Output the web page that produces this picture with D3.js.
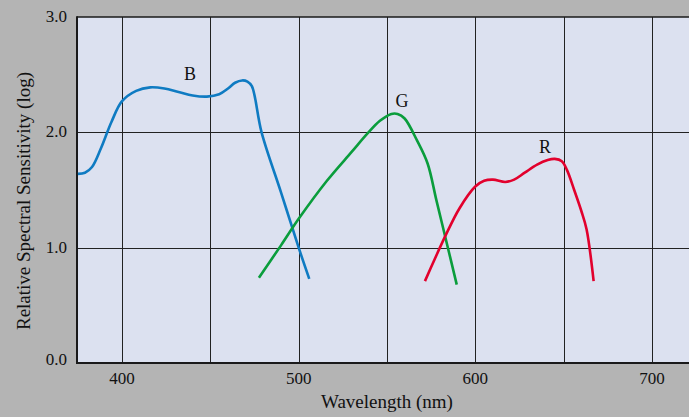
<!DOCTYPE html>
<html>
<head>
<meta charset="utf-8">
<script src="https://cdn.jsdelivr.net/npm/d3@7"></script>
<style>
  html, body { margin: 0; padding: 0; background: #b4b4b4; }
  svg { display: block; }
  text { font-family: "Liberation Serif", "Times New Roman", serif; fill: #111; }
</style>
</head>
<body>
<svg id="chart" width="689" height="417"></svg>
<script>
// sensitivity curves (wavelength nm, log sensitivity)
const blueWl  = [375, 379, 383, 388, 394, 400, 408, 416, 424, 432, 440, 448, 455, 460, 464, 468, 471, 473.5, 479, 490, 500, 506]
const blueVal = [1.64, 1.65, 1.70, 1.86, 2.09, 2.27, 2.36, 2.39, 2.38, 2.35, 2.32, 2.31, 2.33, 2.38, 2.43, 2.45, 2.44, 2.40, 2.00, 1.48, 1.00, 0.73]

const greenWl  = [477.5, 490, 500, 516, 530, 539, 546, 552.5, 556, 560, 567, 573, 578, 584, 589.5]
const greenVal = [0.74, 1.02, 1.25, 1.58, 1.83, 1.99, 2.10, 2.16, 2.16, 2.12, 1.93, 1.73, 1.41, 1.03, 0.68]

const redWl  = [571.5, 577, 583, 591, 600, 605, 610, 617, 622, 628, 635, 641, 645, 649, 652, 656, 660, 663, 667]
const redVal = [0.71, 0.90, 1.10, 1.34, 1.53, 1.58, 1.59, 1.57, 1.59, 1.65, 1.72, 1.76, 1.77, 1.75, 1.67, 1.50, 1.32, 1.16, 0.71]

const seriesNames = ["B", "G", "R"]
const seriesColors = ["#0f7bc2", "#0a9d3c", "#e2012d"]
// where each curve label sits, in data units
const labelWl  = [438.5, 558.5, 639.5]
const labelVal = [2.45, 2.22, 1.82]

const xTicks = [400, 500, 600, 700]
const xGrid = [400, 450, 500, 550, 600, 650, 700]
const yTicks = [0, 1, 2, 3]

const svg = d3.select("#chart")
const x = d3.scaleLinear().domain([374.5, 721]).range([77, 689])
const y = d3.scaleLinear().domain([0, 3]).range([363, 17])

// plot background
svg.append("rect")
  .attr("x", x(374.5)).attr("y", y(3))
  .attr("width", x(721) - x(374.5)).attr("height", y(0) - y(3))
  .attr("fill", "#dce1f0")

// grid
svg.append("g").selectAll("line").data(xGrid).join("line")
  .attr("x1", d => Math.round(x(d)) + 0.5).attr("x2", d => Math.round(x(d)) + 0.5)
  .attr("y1", y(3)).attr("y2", y(0))
  .attr("stroke", "#222").attr("stroke-width", 1)

svg.append("g").selectAll("line").data([1, 2]).join("line")
  .attr("x1", x(374.5)).attr("x2", x(721))
  .attr("y1", d => Math.round(y(d)) + 0.5).attr("y2", d => Math.round(y(d)) + 0.5)
  .attr("stroke", "#222").attr("stroke-width", 1)

// frame: top, left, bottom
svg.append("line").attr("x1", x(374.5)).attr("x2", x(721))
  .attr("y1", y(3)).attr("y2", y(3)).attr("stroke", "#1a1a1a").attr("stroke-width", 1.5)
svg.append("line").attr("x1", x(374.5)).attr("x2", x(721))
  .attr("y1", y(0)).attr("y2", y(0)).attr("stroke", "#1a1a1a").attr("stroke-width", 2)
svg.append("line").attr("x1", x(374.5)).attr("x2", x(374.5))
  .attr("y1", y(3) - 0.75).attr("y2", y(0) + 1).attr("stroke", "#1a1a1a").attr("stroke-width", 2)

// tick labels
svg.append("g").selectAll("text").data(xTicks).join("text")
  .attr("x", d => x(d)).attr("y", 383.5)
  .attr("text-anchor", "middle").attr("font-size", 17)
  .text(d => d)

svg.append("g").selectAll("text").data(yTicks).join("text")
  .attr("x", 67).attr("y", d => y(d) + (d === 0 ? 1.5 : 5))
  .attr("text-anchor", "end").attr("font-size", 17)
  .text(d => d.toFixed(1))

// axis titles
svg.append("text")
  .attr("x", x(550)).attr("y", 408)
  .attr("text-anchor", "middle").attr("font-size", 19)
  .text("Wavelength (nm)")

svg.append("text")
  .attr("transform", "translate(30,201) rotate(-90)")
  .attr("text-anchor", "middle").attr("font-size", 19)
  .text("Relative Spectral Sensitivity (log)")

// curves
const line = d3.line()
  .x(d => x(d[0])).y(d => y(d[1]))
  .curve(d3.curveCatmullRom.alpha(0.5))

const curves = [
  d3.zip(blueWl, blueVal),
  d3.zip(greenWl, greenVal),
  d3.zip(redWl, redVal)
]

svg.append("g").selectAll("path").data(curves).join("path")
  .attr("d", line)
  .attr("fill", "none")
  .attr("stroke", (d, i) => seriesColors[i])
  .attr("stroke-width", 2.6)
  .attr("stroke-linejoin", "round")

svg.append("g").selectAll("text").data(seriesNames).join("text")
  .attr("x", (d, i) => x(labelWl[i])).attr("y", (d, i) => y(labelVal[i]))
  .attr("text-anchor", "middle").attr("font-size", 18)
  .text(d => d)
</script>
</body>
</html>
